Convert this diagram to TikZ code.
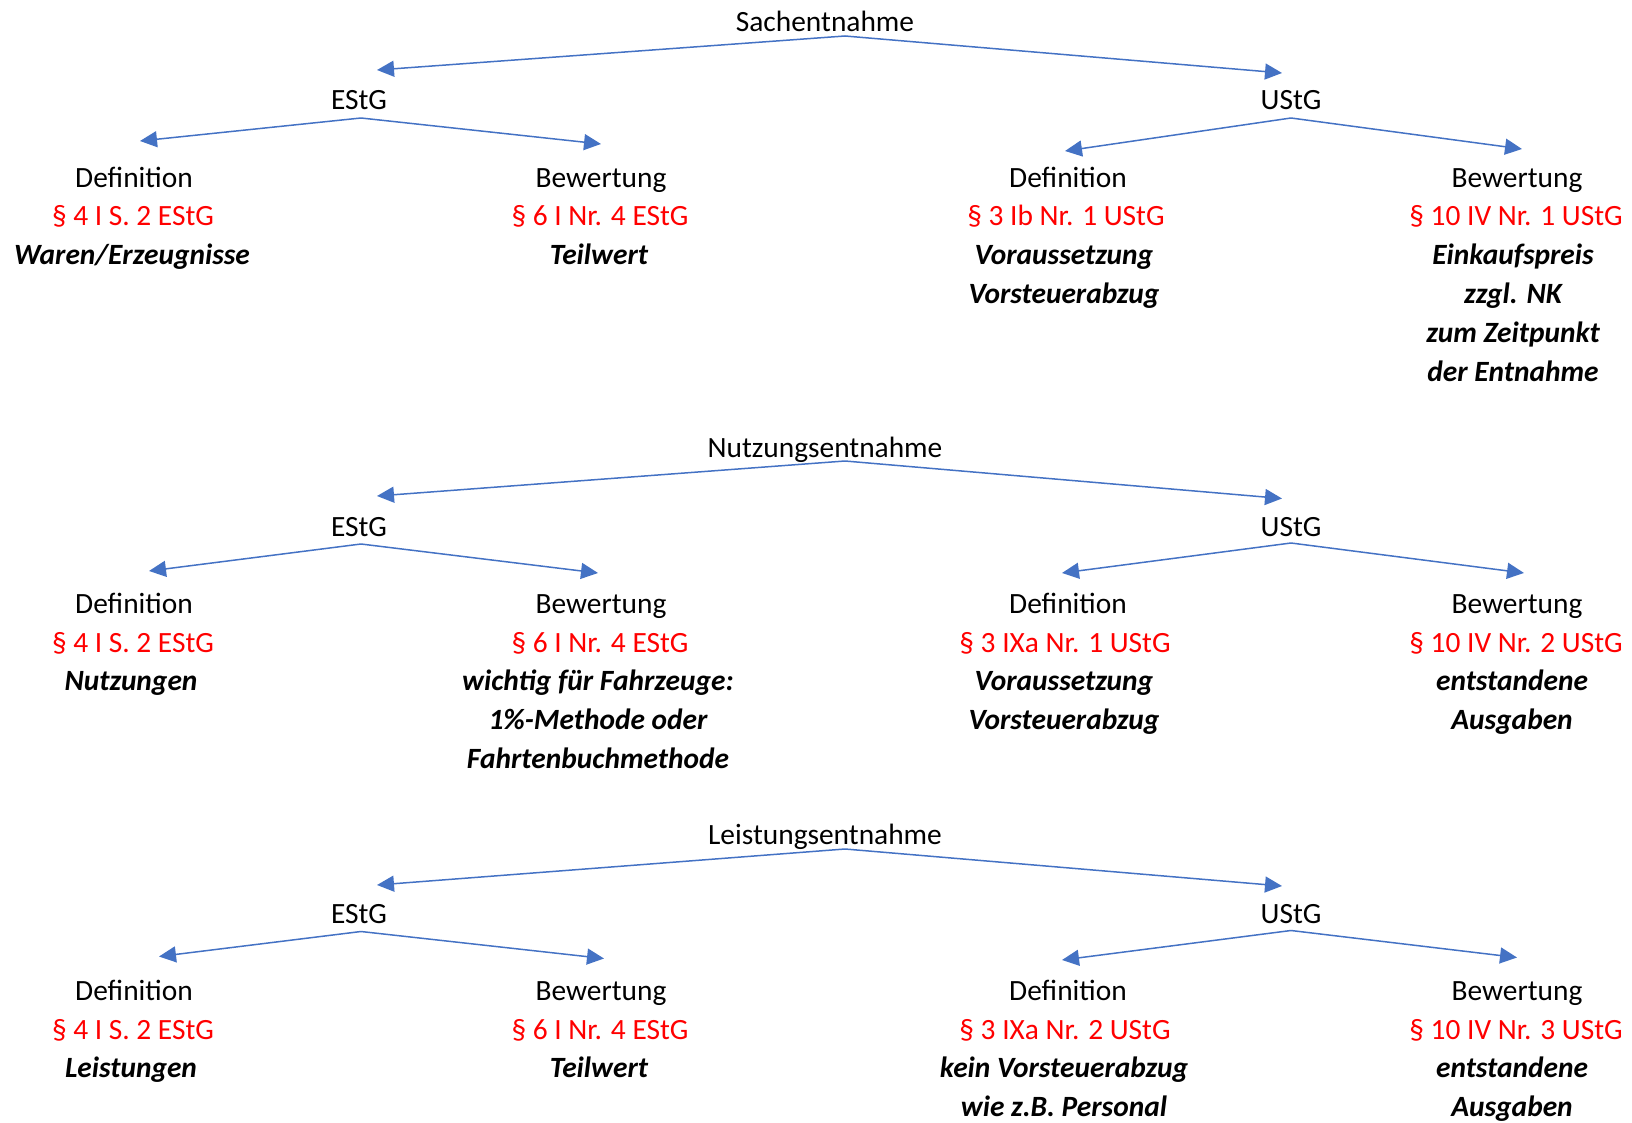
\documentclass[tikz,border=0pt]{standalone}
\usepackage{fontspec}
\setmainfont{Carlito}
\usetikzlibrary{arrows.meta}
\definecolor{linkblue}{HTML}{4472C4}
\definecolor{lawred}{HTML}{FF0000}
\begin{document}
\begin{tikzpicture}[x=0.5pt,y=-0.5pt,
  txt/.style={inner sep=0pt,anchor=base,font=\fontsize{14.7}{17}\selectfont},
  law/.style={txt,text=lawred},
  note/.style={txt,font=\fontsize{14.7}{17}\selectfont\bfseries\itshape},
  link/.style={draw=linkblue,line width=0.75pt,-{Triangle[length=8.5pt,width=8pt]}}]
\useasboundingbox (0,0) rectangle (1632,1123);

% ================= Section 1: Sachentnahme =================
\node[txt] (s1t) at (825,31.5) {Sachentnahme};
\node[txt] (s1e) at (359,109.5) {EStG};
\node[txt] (s1u) at (1291,109.5) {UStG};
\coordinate (s1ta) at (845,36);
\coordinate (s1tl) at (377,70);
\coordinate (s1tr) at (1282,73);
\coordinate (s1ea) at (361,118);
\coordinate (s1el) at (140,141);
\coordinate (s1er) at (601,144);
\coordinate (s1ua) at (1291,118);
\coordinate (s1ul) at (1065,151);
\coordinate (s1ur) at (1522,149);
\draw[link] (s1ta) -- (s1tl);
\draw[link] (s1ta) -- (s1tr);
\draw[link] (s1ea) -- (s1el);
\draw[link] (s1ea) -- (s1er);
\draw[link] (s1ua) -- (s1ul);
\draw[link] (s1ua) -- (s1ur);

\node[txt]  (s1a1) at (134,187.5) {Definition};
\node[law]  (s1a2) at (133,226) {§ 4 I S. 2 EStG};
\node[note] (s1a3) at (132,264.5) {Waren/Erzeugnisse};

\node[txt]  (s1b1) at (601,187.5) {Bewertung};
\node[law]  (s1b2) at (600,226) {§ 6 I Nr. 4 EStG};
\node[note] (s1b3) at (599,264.5) {Teilwert};

\node[txt]  (s1c1) at (1068,187.5) {Definition};
\node[law]  (s1c2) at (1066,226) {§ 3 Ib Nr. 1 UStG};
\node[note] (s1c3) at (1064,264.5) {Voraussetzung};
\node[note] (s1c4) at (1064,303) {Vorsteuerabzug};

\node[txt]  (s1d1) at (1517,187.5) {Bewertung};
\node[law]  (s1d2) at (1516,226) {§ 10 IV Nr. 1 UStG};
\node[note] (s1d3) at (1513,264.5) {Einkaufspreis};
\node[note] (s1d4) at (1513,303) {zzgl. NK};
\node[note] (s1d5) at (1513,342.5) {zum Zeitpunkt};
\node[note] (s1d6) at (1513,381) {der Entnahme};

% ================= Section 2: Nutzungsentnahme =================
\node[txt] (s2t) at (825,457) {Nutzungsentnahme};
\node[txt] (s2e) at (359,536.5) {EStG};
\node[txt] (s2u) at (1291,536.5) {UStG};
\coordinate (s2ta) at (845,461);
\coordinate (s2tl) at (377,496);
\coordinate (s2tr) at (1282,498.5);
\coordinate (s2ea) at (361,544);
\coordinate (s2el) at (149,571);
\coordinate (s2er) at (598,573);
\coordinate (s2ua) at (1291,543);
\coordinate (s2ul) at (1062,573);
\coordinate (s2ur) at (1524,573);
\draw[link] (s2ta) -- (s2tl);
\draw[link] (s2ta) -- (s2tr);
\draw[link] (s2ea) -- (s2el);
\draw[link] (s2ea) -- (s2er);
\draw[link] (s2ua) -- (s2ul);
\draw[link] (s2ua) -- (s2ur);

\node[txt]  (s2a1) at (134,613.5) {Definition};
\node[law]  (s2a2) at (133,652.2) {§ 4 I S. 2 EStG};
\node[note] (s2a3) at (131,690.9) {Nutzungen};

\node[txt]  (s2b1) at (601,613.5) {Bewertung};
\node[law]  (s2b2) at (600,652.2) {§ 6 I Nr. 4 EStG};
\node[note] (s2b3) at (598,690.9) {wichtig für Fahrzeuge:};
\node[note] (s2b4) at (598,729.6) {1\%-Methode oder};
\node[note] (s2b5) at (598,768.3) {Fahrtenbuchmethode};

\node[txt]  (s2c1) at (1068,613.5) {Definition};
\node[law]  (s2c2) at (1065,652.2) {§ 3 IXa Nr. 1 UStG};
\node[note] (s2c3) at (1064,690.9) {Voraussetzung};
\node[note] (s2c4) at (1064,729.6) {Vorsteuerabzug};

\node[txt]  (s2d1) at (1517,613.5) {Bewertung};
\node[law]  (s2d2) at (1516,652.2) {§ 10 IV Nr. 2 UStG};
\node[note] (s2d3) at (1512,690.9) {entstandene};
\node[note] (s2d4) at (1512,729.6) {Ausgaben};

% ================= Section 3: Leistungsentnahme =================
\node[txt] (s3t) at (825,844.5) {Leistungsentnahme};
\node[txt] (s3e) at (359,923.5) {EStG};
\node[txt] (s3u) at (1291,923.5) {UStG};
\coordinate (s3ta) at (845,849);
\coordinate (s3tl) at (377,885);
\coordinate (s3tr) at (1282,886);
\coordinate (s3ea) at (361,931.5);
\coordinate (s3el) at (159,956.5);
\coordinate (s3er) at (604,958.5);
\coordinate (s3ua) at (1291,930.5);
\coordinate (s3ul) at (1062,960);
\coordinate (s3ur) at (1517,957.5);
\draw[link] (s3ta) -- (s3tl);
\draw[link] (s3ta) -- (s3tr);
\draw[link] (s3ea) -- (s3el);
\draw[link] (s3ea) -- (s3er);
\draw[link] (s3ua) -- (s3ul);
\draw[link] (s3ua) -- (s3ur);

\node[txt]  (s3a1) at (134,1000.5) {Definition};
\node[law]  (s3a2) at (133,1039.2) {§ 4 I S. 2 EStG};
\node[note] (s3a3) at (131,1077.9) {Leistungen};

\node[txt]  (s3b1) at (601,1000.5) {Bewertung};
\node[law]  (s3b2) at (600,1039.2) {§ 6 I Nr. 4 EStG};
\node[note] (s3b3) at (599,1077.9) {Teilwert};

\node[txt]  (s3c1) at (1068,1000.5) {Definition};
\node[law]  (s3c2) at (1065,1039.2) {§ 3 IXa Nr. 2 UStG};
\node[note] (s3c3) at (1064,1077.9) {kein Vorsteuerabzug};
\node[note] (s3c4) at (1064,1116.6) {wie z.B. Personal};

\node[txt]  (s3d1) at (1517,1000.5) {Bewertung};
\node[law]  (s3d2) at (1516,1039.2) {§ 10 IV Nr. 3 UStG};
\node[note] (s3d3) at (1512,1077.9) {entstandene};
\node[note] (s3d4) at (1512,1116.6) {Ausgaben};
\end{tikzpicture}
\end{document}
